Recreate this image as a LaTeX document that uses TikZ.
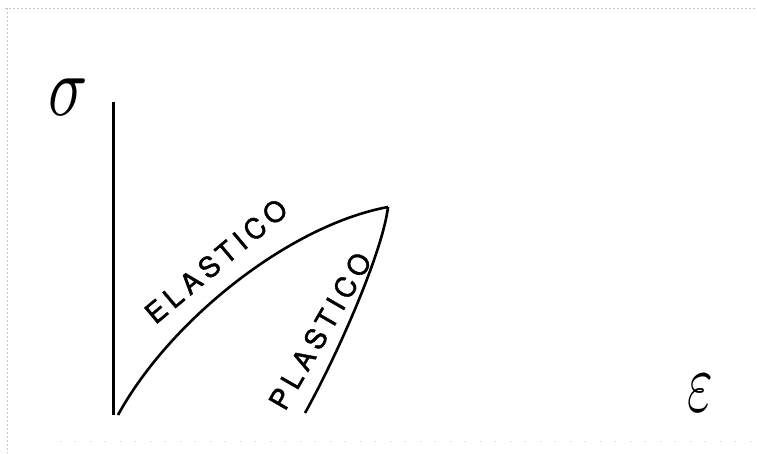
\documentclass[tikz,border=0pt]{standalone}
\usepackage{fontspec}
\setsansfont{TeX Gyre Heros}
\newfontfamily\handfont[LetterSpace=19,FakeBold=1.6]{TeX Gyre Heros}
\begin{document}
\begin{tikzpicture}[x=1pt,y=-1pt,
  curve/.style={line width=2.6pt,black},
  axisline/.style={line width=3pt,black},
  lbl/.style={inner sep=0pt,font=\handfont\fontsize{28}{28}\selectfont},
  greek/.style={inner sep=0pt,font=\normalsize},
  scanline/.style={gray!45,line width=0.6pt,dash pattern=on 1.5pt off 2.5pt}]
\useasboundingbox (0,0) rectangle (757,453);
% scan border traces
\draw[scanline] (5,8) -- (757,8);
\draw[scanline] (7,8) -- (7,453);
\draw[scanline,dash pattern=on 1pt off 14pt] (60,441) -- (757,441);
% axis
\coordinate (top) at (113,102);
\coordinate (orig) at (113,415);
\coordinate (peak) at (388,207);
\coordinate (pend) at (305,413);
\draw[axisline] (top) -- (orig);
% curves
\draw[curve] (118,415) .. controls (170,320) and (290,225) .. (peak);
\draw[curve] (peak) .. controls (383,250) and (340,350) .. (pend);
% labels
\node[lbl,rotate=40] (el) at (216,261) {ELASTICO};
\node[lbl,rotate=60] (pl) at (320,331) {PLASTICO};
\node[greek,xscale=6.5,yscale=8.5] (sig) at (68,97) {$\sigma$};
\node[greek,xscale=5.5,yscale=8.5] (eps) at (700,393) {$\varepsilon$};
\end{tikzpicture}
\end{document}
